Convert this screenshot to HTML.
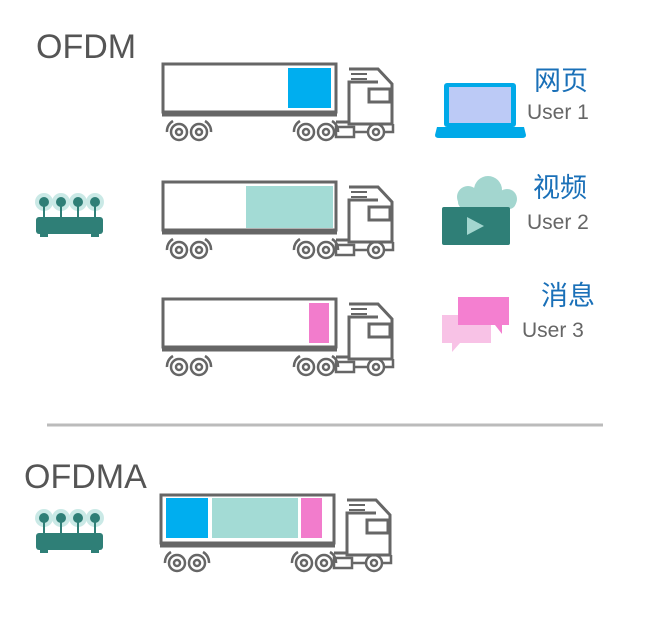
<!DOCTYPE html>
<html><head><meta charset="utf-8"><style>
body{margin:0;background:#fff;width:648px;height:618px;overflow:hidden}
</style></head><body>
<svg width="648" height="618" viewBox="0 0 648 618" xmlns="http://www.w3.org/2000/svg">
<defs>
<g id="truck" fill="none" stroke="#666" stroke-width="3">
  <rect x="0" y="0" width="173" height="48"/>
  <path d="M-1 51 H174" stroke-width="3"/>
  <path d="M186 5 H215 L229 20 V60 H186 V18 H215"/>
  <path d="M188 10 H204 M188 15 H204" stroke-width="2"/>
  <rect x="206" y="25" width="21" height="13"/>
  <path d="M173 58 H186" />
  <g stroke-width="2.5">
    <circle cx="16" cy="68" r="8"/><circle cx="16" cy="68" r="3"/>
    <circle cx="36" cy="68" r="8"/><circle cx="36" cy="68" r="3"/>
    <circle cx="143" cy="68" r="8"/><circle cx="143" cy="68" r="3"/>
    <circle cx="163" cy="68" r="8"/><circle cx="163" cy="68" r="3"/>
    <circle cx="213" cy="68" r="8"/><circle cx="213" cy="68" r="3"/>
    <rect x="173" y="63" width="18" height="10"/>
    <path d="M191 68 H205 M221 68 H230 V60"/>
    <path d="M4 68 A13 12 0 0 1 10 57 M42 57 A13 12 0 0 1 48 68 M131 68 A13 12 0 0 1 137 57 M169 57 A13 12 0 0 1 175 68" />
  </g>
</g>
<g id="router">
  <g fill="#a8dcd6" opacity="0.6">
    <circle cx="10" cy="10" r="9"/><circle cx="27" cy="10" r="9"/><circle cx="44" cy="10" r="9"/><circle cx="61" cy="10" r="9"/>
  </g>
  <g fill="#2f7f77" stroke="#2f7f77" stroke-width="2">
    <circle cx="10" cy="10" r="4"/><circle cx="27" cy="10" r="4"/><circle cx="44" cy="10" r="4"/><circle cx="61" cy="10" r="4"/>
    <path d="M10 10 V25 M27 10 V25 M44 10 V25 M61 10 V25"/>
  </g>
  <rect x="2" y="25" width="67" height="17" rx="3" fill="#2f7f77"/>
  <rect x="6" y="41" width="8" height="4" fill="#2f7f77"/><rect x="57" y="41" width="8" height="4" fill="#2f7f77"/>
</g>
</defs>

<text x="36" y="58" font-family="Liberation Sans, sans-serif" font-size="34" fill="#555">OFDM</text>
<text x="24" y="488" font-family="Liberation Sans, sans-serif" font-size="34" fill="#555">OFDMA</text>
<line x1="47" y1="425" x2="603" y2="425" stroke="#bbb" stroke-width="3"/>

<rect x="288" y="68" width="43" height="40" fill="#00aeef"/>
<use href="#truck" x="163" y="64"/>
<rect x="246" y="186" width="87" height="42" fill="#a3dbd5"/>
<use href="#truck" x="163" y="182"/>
<rect x="309" y="303" width="20" height="40" fill="#f27ccc"/>
<use href="#truck" x="163" y="299"/>
<rect x="166" y="498" width="42" height="40" fill="#00aeef"/>
<rect x="212" y="498" width="86" height="40" fill="#a3dbd5"/>
<rect x="301" y="498" width="21" height="40" fill="#f27ccc"/>
<use href="#truck" x="161" y="495"/>

<use href="#router" x="34" y="192"/>
<use href="#router" x="34" y="508"/>

<rect x="444" y="83" width="72" height="44" rx="3" fill="#00a9e8"/>
<rect x="449" y="87" width="62" height="36" fill="#bccaf6"/>
<path d="M437 127 H524 L526 135 Q526 138 522 138 H439 Q435 138 435 135 Z" fill="#00a9e8"/>
<text x="534" y="90" font-family="Liberation Sans, Noto Sans CJK SC, sans-serif" font-size="27" fill="#1a70b8">网页</text>
<text x="527" y="119" font-family="Liberation Sans, sans-serif" font-size="21" fill="#666">User 1</text>

<g fill="#a3d6cf">
  <circle cx="468" cy="197" r="11"/><circle cx="488" cy="190" r="14"/><circle cx="507" cy="199" r="10"/>
  <rect x="458" y="195" width="58" height="14" rx="7"/>
</g>
<rect x="442" y="207" width="68" height="38" rx="2" fill="#2f7f77"/>
<path d="M467 217 L484 226 L467 235 Z" fill="#a3d6cf"/>
<text x="533" y="197" font-family="Liberation Sans, Noto Sans CJK SC, sans-serif" font-size="27" fill="#1a70b8">视频</text>
<text x="527" y="229" font-family="Liberation Sans, sans-serif" font-size="21" fill="#666">User 2</text>

<path d="M442 315 H491 V343 H460 L452 352 V343 H442 Z" fill="#f8c2e6"/>
<path d="M458 297 H509 V325 H502 V334 L495 325 H458 Z" fill="#f47fd0"/>
<text x="541" y="305" font-family="Liberation Sans, Noto Sans CJK SC, sans-serif" font-size="27" fill="#1a70b8">消息</text>
<text x="522" y="337" font-family="Liberation Sans, sans-serif" font-size="21" fill="#666">User 3</text>
</svg>
</body></html>
